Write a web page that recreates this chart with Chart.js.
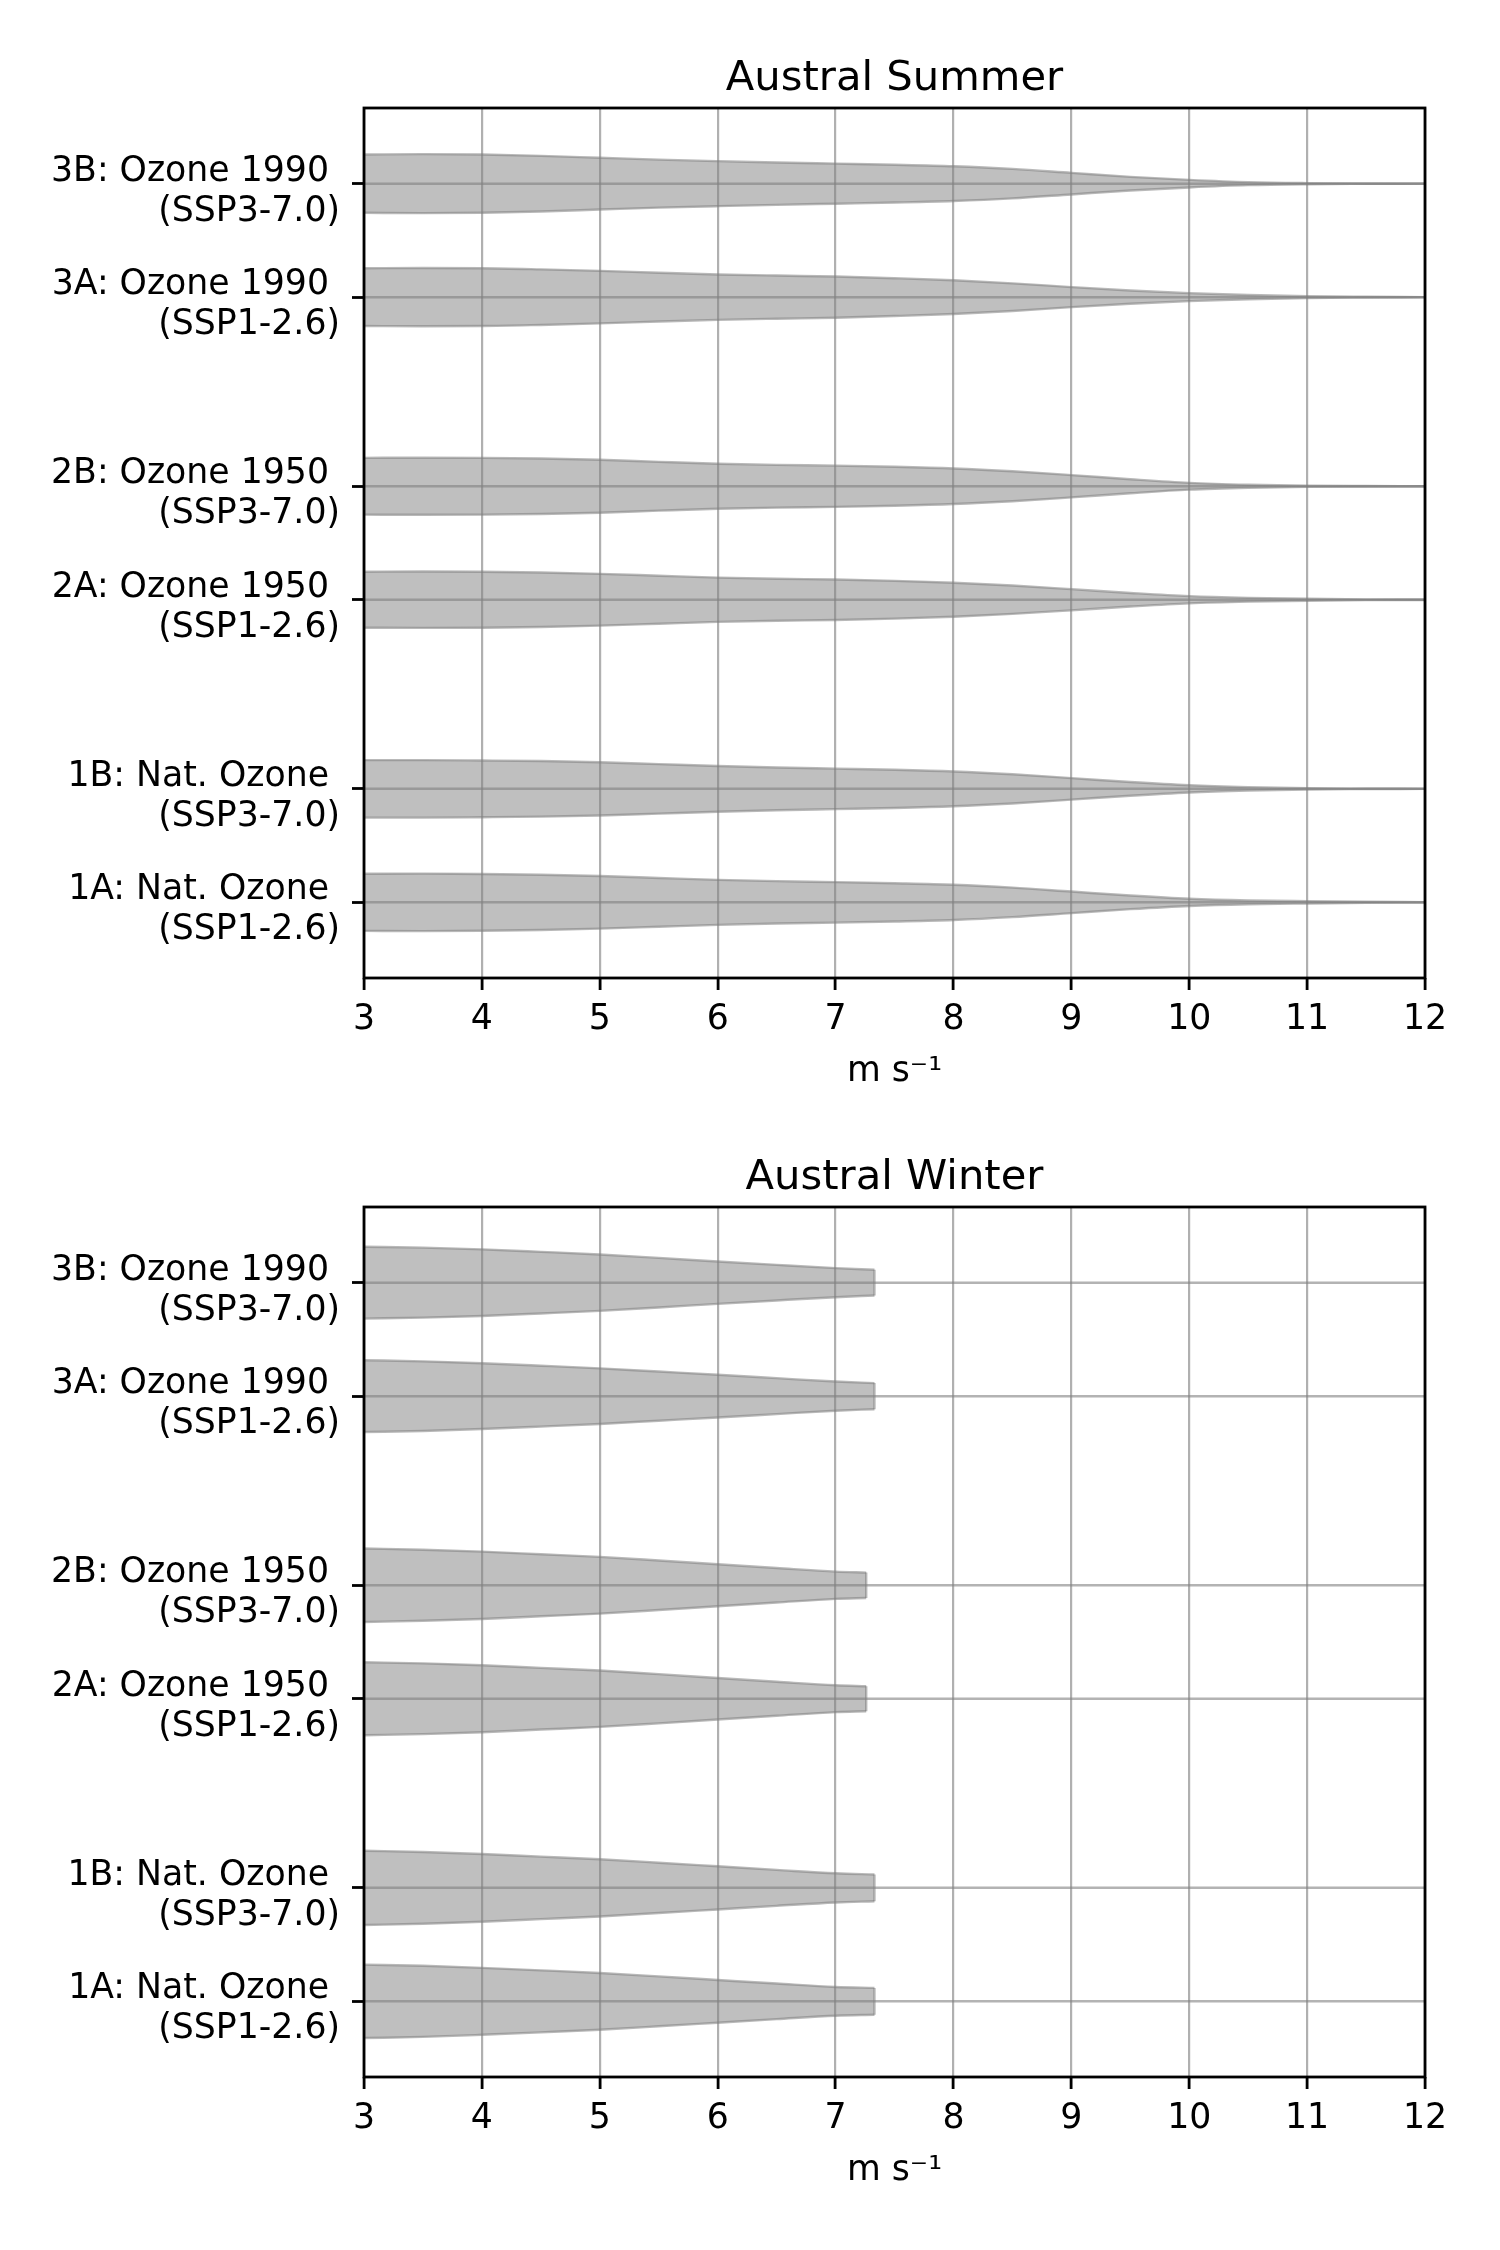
<!DOCTYPE html>
<html>
<head>
<meta charset="utf-8">
<title>Austral Summer / Austral Winter</title>
<script src="https://cdn.jsdelivr.net/npm/chart.js@4.4.0/dist/chart.umd.min.js"></script>
<style>
  html, body { margin: 0; padding: 0; background: #fff; }
  body { width: 1500px; height: 2250px; position: relative; overflow: hidden; }
  .panel { position: absolute; left: 0; width: 1500px; height: 1120px; }
</style>
</head>
<body>
<div class="panel" style="top:0px"><canvas id="summer" width="1500" height="1120"></canvas></div>
<div class="panel" style="top:1099px"><canvas id="winter" width="1500" height="1120"></canvas></div>

<script>
// experiments, listed bottom to top as on the y axis
const experiments = ['1A: Nat. Ozone ', '1B: Nat. Ozone ', '2A: Ozone 1950 ', '2B: Ozone 1950 ', '3A: Ozone 1990 ', '3B: Ozone 1990 '];
const scenarios = ['(SSP1-2.6)', '(SSP3-7.0)', '(SSP1-2.6)', '(SSP3-7.0)', '(SSP1-2.6)', '(SSP3-7.0)'];
const positions = [1, 1.6, 2.6, 3.2, 4.2, 4.8];

const xTicks = [3, 4, 5, 6, 7, 8, 9, 10, 11, 12];

// summer violins: half width (y units) sampled along wind speed
const summerSpeed = [3, 3.5, 4, 4.5, 5, 5.5, 6, 6.5, 7, 7.5, 8, 8.5, 9, 9.5, 10, 10.5, 11, 11.5, 12];
const summer1A = [.151, .152, .150, .146, .139, .129, .119, .112, .107, .101, .093, .078, .057, .036, .019, .010, .006, .003, .001];
const summer1B = [.152, .152, .150, .147, .141, .131, .121, .113, .107, .101, .092, .077, .057, .036, .019, .009, .003, .001, 0];
const summer2A = [.148, .149, .148, .144, .137, .127, .117, .111, .107, .100, .090, .075, .056, .036, .019, .010, .005, .002, .001];
const summer2B = [.150, .151, .150, .147, .140, .129, .119, .113, .109, .103, .094, .079, .059, .037, .018, .008, .003, .001, 0];
const summer3A = [.153, .154, .153, .147, .139, .129, .120, .114, .109, .100, .089, .073, .053, .035, .021, .011, .005, .002, 0];
const summer3B = [.154, .156, .154, .147, .137, .127, .119, .112, .106, .100, .092, .078, .057, .036, .020, .008, .003, .001, 0];
const summerRange = [2.5, 12.5];

// winter violins stop at the sample maximum
const winterSpeed = [3, 3.5, 4, 4.5, 5, 5.5, 6, 6.5, 7];
const winterMax = [7.33, 7.33, 7.26, 7.26, 7.33, 7.33];
const winter1A = [.194, .188, .177, .164, .150, .132, .113, .094, .076, .071];
const winter1B = [.196, .190, .179, .165, .151, .133, .114, .095, .077, .071];
const winter2A = [.193, .187, .177, .163, .149, .130, .110, .090, .071, .066];
const winter2B = [.194, .188, .178, .164, .150, .131, .111, .091, .072, .067];
const winter3A = [.190, .184, .174, .161, .147, .130, .113, .095, .077, .069];
const winter3B = [.190, .185, .176, .163, .149, .131, .112, .094, .077, .068];
const winterRange = [2.5, 12.5];

const FILL = 'rgba(128,128,128,0.5)';
const EDGE = 'rgba(128,128,128,0.55)';
const CBAR = 'rgba(128,128,128,0.6)';
const TICK_FONT = { family: 'DejaVu Sans', size: 34.7, lineHeight: 1.15 };
const TITLE_FONT = { family: 'DejaVu Sans', size: 41.7, lineHeight: 1.2 };

function violins(speeds, widths, ends, range) {
  const sets = [];
  widths.forEach((w, i) => {
    const pos = positions[i];
    const xs = ends ? speeds.concat([ends[i]]) : speeds;
    sets.push({
      data: [{ x: range[0], y: pos }, { x: range[1], y: pos }],
      borderColor: CBAR, borderWidth: 2.5, fill: false, tension: 0
    });
    sets.push({
      data: xs.map((x, j) => ({ x: x, y: pos + w[j] })),
      borderColor: EDGE, borderWidth: 2.4, backgroundColor: FILL, fill: '+1',
      cubicInterpolationMode: 'monotone'
    });
    sets.push({
      data: xs.map((x, j) => ({ x: x, y: pos - w[j] })),
      borderColor: EDGE, borderWidth: 2.4, fill: false,
      cubicInterpolationMode: 'monotone'
    });
    if (ends) {
      const last = w[w.length - 1];
      sets.push({
        data: [{ x: ends[i], y: pos + last }, { x: ends[i], y: pos - last }],
        borderColor: EDGE, borderWidth: 2.4, fill: false, tension: 0
      });
    }
  });
  return sets;
}

// black box round the plot area, like matplotlib spines
const frame = {
  id: 'frame',
  afterDraw(chart) {
    const a = chart.chartArea, ctx = chart.ctx;
    ctx.save();
    ctx.strokeStyle = '#000';
    ctx.lineWidth = 2.8;
    ctx.strokeRect(a.left, a.top, a.right - a.left, a.bottom - a.top);
    ctx.restore();
  }
};

function makePanel(id, title, datasets) {
  return new Chart(document.getElementById(id), {
    type: 'line',
    data: { datasets: datasets },
    plugins: [frame],
    options: {
      responsive: false,
      animation: false,
      devicePixelRatio: 1,
      layout: { padding: { left: 0, right: 75, top: 0, bottom: 0 } },
      elements: { point: { radius: 0, hitRadius: 0 } },
      plugins: { legend: { display: false }, tooltip: { enabled: false }, title: { display: false } },
      scales: {
        x: {
          type: 'linear', position: 'bottom', min: 3, max: 12,
          afterBuildTicks: (axis) => { axis.ticks = xTicks.map(v => ({ value: v })); },
          afterFit: (axis) => { axis.height = 142; },
          grid: { color: '#b0b0b0', lineWidth: 2.2, tickLength: 12, tickColor: '#000', tickWidth: 2.8 },
          border: { display: false },
          ticks: { color: '#000', font: TICK_FONT, padding: 10, maxRotation: 0, autoSkip: false },
          title: { display: true, text: 'm s\u207B\u00B9', color: '#000', font: TICK_FONT, padding: { top: 0, bottom: 28 } }
        },
        xTop: {
          type: 'linear', position: 'top', min: 3, max: 12,
          afterFit: (axis) => { axis.height = 108; },
          grid: { display: false }, border: { display: false }, ticks: { display: false },
          title: { display: true, text: title, color: '#000', font: TITLE_FONT, padding: { top: 54, bottom: 0 } }
        },
        y: {
          type: 'linear', position: 'left', min: 0.6, max: 5.2,
          afterBuildTicks: (axis) => { axis.ticks = positions.map(v => ({ value: v })); },
          afterFit: (axis) => { axis.width = 364; },
          grid: { drawOnChartArea: false, tickLength: 12, tickColor: '#000', tickWidth: 2.8 },
          border: { display: false },
          ticks: {
            color: '#000', font: TICK_FONT, padding: 12, autoSkip: false, labelOffset: 8,
            callback: (value) => {
              const i = positions.indexOf(value);
              return i < 0 ? '' : [experiments[i], scenarios[i]];
            }
          }
        }
      }
    }
  });
}

makePanel('summer', 'Austral Summer',
  violins(summerSpeed, [summer1A, summer1B, summer2A, summer2B, summer3A, summer3B], null, summerRange));
makePanel('winter', 'Austral Winter',
  violins(winterSpeed, [winter1A, winter1B, winter2A, winter2B, winter3A, winter3B], winterMax, winterRange));
</script>
</body>
</html>
